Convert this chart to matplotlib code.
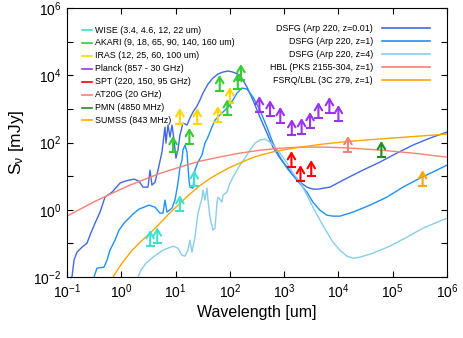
import numpy as np
import matplotlib
matplotlib.use("Agg")
import matplotlib.pyplot as plt
from matplotlib.lines import Line2D
from matplotlib.ticker import FixedLocator, NullLocator

plt.rcParams.update({
    "font.family": "Liberation Sans",
    "mathtext.default": "regular",
})

#%% model SEDs: log10 wavelength [um], log10 flux [mJy]

arp_z001_loglam = [-0.908, -0.871, -0.816, -0.724, -0.632, -0.576, -0.484, -0.392, -0.300, -0.171,
                   -0.024, 0.068, 0.234, 0.326, 0.400, 0.492, 0.529, 0.565, 0.621, 0.676,
                   0.750, 0.786, 0.805, 0.823, 0.860, 0.897, 0.934, 0.971, 1.007, 1.044,
                   1.081, 1.136, 1.210, 1.265, 1.320, 1.394, 1.449, 1.505, 1.597, 1.689,
                   1.781, 1.873, 1.965, 2.057, 2.186, 2.315, 2.425, 2.554, 2.683, 2.794,
                   2.923, 3.052, 3.162, 3.291, 3.420, 3.530, 3.622, 3.843, 4.157, 4.451,
                   4.764, 5.077, 5.372, 5.685, 5.998]
arp_z001_logS = [-2.0, -1.500, -1.262, -1.113, -0.994, -0.756, -0.399, -0.071, 0.375, 0.524,
                 0.792, 0.851, 0.911, 0.851, 0.673, 0.673, 1.179, 0.732, 0.821, 1.179,
                 1.714, 2.220, 2.458, 1.982, 2.518, 2.161, 2.518, 2.071, 1.536, 1.774,
                 2.220, 2.577, 2.518, 2.726, 2.905, 3.083, 3.262, 3.470, 3.738, 3.917,
                 4.036, 4.095, 4.125, 4.095, 4.006, 3.649, 3.262, 2.756, 2.280, 1.863,
                 1.536, 1.268, 1.030, 0.821, 0.673, 0.613, 0.613, 0.673, 0.940, 1.179,
                 1.417, 1.685, 1.923, 2.131, 2.310]

arp_z1_loglam = [-0.503, -0.448, -0.319, -0.263, -0.208, -0.116, -0.042, 0.050, 0.142, 0.234,
                 0.326, 0.418, 0.510, 0.621, 0.713, 0.768, 0.805, 0.842, 0.934, 0.989,
                 1.044, 1.081, 1.118, 1.136, 1.173, 1.210, 1.247, 1.265, 1.320, 1.357,
                 1.413, 1.486, 1.541, 1.597, 1.670, 1.726, 1.781, 1.873, 1.965, 2.057,
                 2.131, 2.223, 2.315, 2.425, 2.554, 2.683, 2.794, 2.923, 3.052, 3.236,
                 3.420, 3.530, 3.659, 3.788, 3.899, 4.028, 4.267, 4.580, 4.893, 5.188,
                 5.501, 5.814, 5.998]
arp_z1_logS = [-2.0, -1.738, -1.708, -1.500, -1.202, -0.905, -0.607, -0.399, -0.250, -0.101,
               0.018, 0.077, 0.137, 0.077, -0.101, -0.101, 0.286, -0.071, 0.048, 0.286,
               0.792, 1.268, 1.476, 1.774, 1.923, 1.714, 0.881, 0.673, 0.643, 1.179,
               1.417, 1.625, 1.982, 2.161, 2.458, 2.667, 2.756, 2.905, 3.054, 3.262,
               3.470, 3.619, 3.589, 3.351, 2.964, 2.458, 1.982, 1.565, 1.238, 0.881,
               0.524, 0.226, -0.012, -0.161, -0.190, -0.190, -0.071, 0.137, 0.375, 0.673,
               0.940, 1.179, 1.327]

arp_z4_loglam = [0.308, 0.363, 0.455, 0.584, 0.768, 0.952, 1.044, 1.118, 1.173, 1.228,
                 1.265, 1.302, 1.357, 1.413, 1.486, 1.505, 1.541, 1.578, 1.597, 1.634,
                 1.689, 1.726, 1.762, 1.781, 1.855, 1.873, 1.947, 2.002, 2.057, 2.131,
                 2.186, 2.278, 2.370, 2.462, 2.554, 2.646, 2.738, 2.831, 2.923, 3.052,
                 3.162, 3.291, 3.420, 3.530, 3.659, 3.788, 3.899, 4.028, 4.157, 4.267,
                 4.396, 4.635, 4.948, 5.262, 5.556, 5.998]
arp_z4_logS = [-2.0, -1.798, -1.589, -1.411, -1.202, -1.083, -1.143, -1.351, -1.381, -1.202,
               -0.905, -1.262, -0.815, -0.101, 0.345, 0.583, 0.286, 0.643, 0.286, -0.220,
               -0.607, -0.548, 0.196, 0.375, 0.226, 0.435, 0.524, 0.792, 0.970, 1.179,
               1.327, 1.536, 1.774, 1.982, 2.071, 2.101, 2.012, 1.863, 1.685, 1.387,
               1.089, 0.821, 0.435, 0.077, -0.310, -0.667, -0.964, -1.202, -1.381, -1.440,
               -1.411, -1.292, -1.083, -0.815, -0.548, -0.250]

hbl_loglam = [-1.0, -0.484, -0.171, 0.142, 0.344, 0.713, 1.081, 1.449, 1.818, 2.186,
              2.554, 2.923, 3.291, 3.700, 4.157, 4.764, 5.372, 5.998]
hbl_logS = [-0.19, 0.25, 0.49, 0.72, 0.85, 1.08, 1.27, 1.445, 1.57, 1.685,
            1.77, 1.83, 1.86, 1.865, 1.84, 1.775, 1.685, 1.565]

fsrq_loglam = [-0.153, -0.042, 0.068, 0.197, 0.344, 0.529, 0.713, 0.897, 1.081, 1.265,
               1.449, 1.634, 1.818, 2.002, 2.186, 2.370, 2.554, 2.794, 3.052, 3.291,
               3.700, 4.157, 4.801, 5.400, 5.998]
fsrq_logS = [-2.0, -1.72, -1.47, -1.21, -0.97, -0.70, -0.40, -0.09, 0.19, 0.47,
             0.72, 0.93, 1.10, 1.26, 1.39, 1.52, 1.62, 1.72, 1.80, 1.86,
             1.95, 2.03, 2.11, 2.18, 2.25]

#%% survey lower limits: wavelength [um], flux [mJy]

wise_lam = [3.4, 4.6, 12, 22]
wise_flux = [0.083, 0.10, 0.91, 5.0]
akari_lam = [9, 18, 65, 90, 140, 160]
akari_flux = [52, 90, 3390, 650, 3880, 7200]
iras_lam = [12, 25, 60, 100]
iras_flux = [350, 350, 405, 1490]
planck_lam = [350, 550, 849, 1382, 2098, 3000, 4283, 6813, 9993]
planck_flux = [800, 610, 380, 166, 178, 268, 530, 750, 434]
spt_lam = [1363, 1999, 3156]
spt_flux = [18.5, 7.1, 10]
at20g_lam = [14990]
at20g_flux = [52]
pmn_lam = [61813]
pmn_flux = [37]
sumss_lam = [355600]
sumss_flux = [5.0]

obs_labels = ['WISE (3.4, 4.6, 12, 22 um)', 'AKARI (9, 18, 65, 90, 140, 160 um)',
              'IRAS (12, 25, 60, 100 um)', 'Planck (857 - 30 GHz)', 'SPT (220, 150, 95 GHz)',
              'AT20G (20 GHz)', 'PMN (4850 MHz)', 'SUMSS (843 MHz)']
obs_colors = ['#40e0d0', '#33cc33', '#ffd700', '#9933ee', '#ff0000',
              '#fa8072', '#228b22', '#ffa500']
obs_data = [(wise_lam, wise_flux), (akari_lam, akari_flux), (iras_lam, iras_flux),
            (planck_lam, planck_flux), (spt_lam, spt_flux), (at20g_lam, at20g_flux),
            (pmn_lam, pmn_flux), (sumss_lam, sumss_flux)]

mod_labels = ['DSFG (Arp 220, z=0.01)', 'DSFG (Arp 220, z=1)', 'DSFG (Arp 220, z=4)',
              'HBL (PKS 2155-304, z=1)', 'FSRQ/LBL (3C 279, z=1)']
mod_colors = ['#4169e1', '#1e90ff', '#87ceeb', '#fa8072', '#ffa500']
mod_data = [(arp_z001_loglam, arp_z001_logS), (arp_z1_loglam, arp_z1_logS),
            (arp_z4_loglam, arp_z4_logS), (hbl_loglam, hbl_logS), (fsrq_loglam, fsrq_logS)]

#%% plot

fig = plt.figure(figsize=(4.63, 3.38), dpi=100)
ax = fig.add_axes([67/463, 61/338, 380/463, 269/338])

for (lx, ly), c in zip(mod_data, mod_colors):
    ax.plot(10**np.array(lx), 10**np.array(ly), color=c, lw=1.0)


def lolim(ax, lam, flux, c):
    for x, y in zip(lam, flux):
        ax.annotate('', xy=(x, y*3.0), xytext=(x, y),
                    arrowprops=dict(arrowstyle='->,head_length=0.45,head_width=0.27',
                                    color=c, lw=1.5, shrinkA=0, shrinkB=0))
        ax.plot([x/1.21, x*1.21], [y, y], color=c, lw=1.5, solid_capstyle='butt')


for (lam, flux), c in zip(obs_data, obs_colors):
    lolim(ax, lam, flux, c)

ax.set_xscale('log')
ax.set_yscale('log')
ax.set_xlim(1e-1, 1e6)
ax.set_ylim(1e-2, 1e6)

xt = [10.0**k for k in range(-1, 7)]
ax.xaxis.set_major_locator(FixedLocator(xt))
ax.set_xticklabels(['$10^{%d}$' % k for k in range(-1, 7)])
yt = [10.0**k for k in range(-2, 7)]
ax.yaxis.set_major_locator(FixedLocator(yt))
ax.set_yticklabels(['$10^{%d}$' % k if k % 2 == 0 else '' for k in range(-2, 7)])
ax.xaxis.set_minor_locator(NullLocator())
ax.yaxis.set_minor_locator(NullLocator())
ax.tick_params(which='both', direction='in', top=True, right=True, length=4, width=0.8,
               labelsize=10, pad=4)
for s in ax.spines.values():
    s.set_linewidth(0.8)

ax.set_xlabel('Wavelength [um]', fontsize=11.5, labelpad=3)
ax.set_ylabel(r'$S_\nu$ [mJy]', fontsize=12.5, labelpad=5)

# left legend (observations)
for i, (lab, c) in enumerate(zip(obs_labels, obs_colors)):
    y = 0.918 - i*0.048
    ax.add_line(Line2D([0.040, 0.066], [y, y], transform=ax.transAxes, color=c, lw=1.2))
    ax.text(0.074, y, lab, transform=ax.transAxes, fontsize=6.4, va='center')

# right legend (models)
for i, (lab, c) in enumerate(zip(mod_labels, mod_colors)):
    y = 0.924 - i*0.0483
    ax.add_line(Line2D([0.829, 0.955], [y, y], transform=ax.transAxes, color=c, lw=1.2))
    ax.text(0.805, y, lab, transform=ax.transAxes, fontsize=6.4, va='center', ha='right')

fig.savefig('out.png', dpi=100)
